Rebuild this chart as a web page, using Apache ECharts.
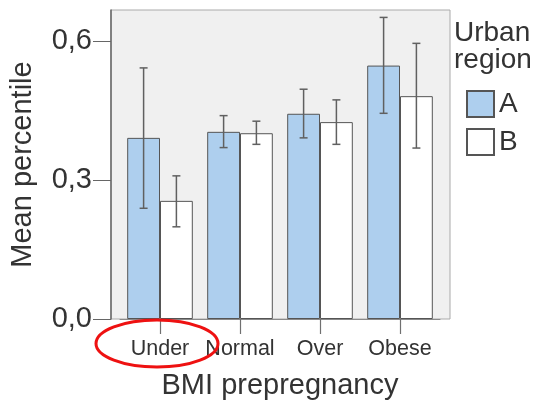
<!DOCTYPE html>
<html>
<head>
<meta charset="utf-8">
<script src="https://cdn.jsdelivr.net/npm/echarts@6/dist/echarts.min.js"></script>
<style>html,body{margin:0;padding:0;background:#fff}#c{width:535px;height:405px}</style>
</head>
<body>
<div id="c"></div>
<script>
const categories = ['Under', 'Normal', 'Over', 'Obese'];
const meanA = [0.391, 0.404, 0.443, 0.547];
const lowA  = [0.239, 0.370, 0.391, 0.444];
const highA = [0.542, 0.439, 0.496, 0.651];
const meanB = [0.255, 0.401, 0.425, 0.481];
const lowB  = [0.199, 0.377, 0.377, 0.369];
const highB = [0.309, 0.427, 0.473, 0.595];
const yTicks = [0, 0.3, 0.6];
const yMax = 0.667;

const FONT = "'Liberation Sans', Arial, sans-serif";
const CAT_GAP = 0.18;

function errSeries(name, low, high, side) {
  return {
    name: name, type: 'custom', xAxisIndex: 0, yAxisIndex: 0, z: 5,
    data: categories.map((c, i) => [i, low[i], high[i]]),
    renderItem: function (params, api) {
      const i = api.value(0);
      const lo = api.coord([i, api.value(1)]);
      const hi = api.coord([i, api.value(2)]);
      const band = api.size([1, 0])[0];
      const bw = band * (1 - CAT_GAP) / 2;
      const x = lo[0] + side * bw / 2;
      const cap = 4;
      const st = { stroke: '#606060', lineWidth: 1.5 };
      return { type: 'group', children: [
        { type: 'line', shape: { x1: x, y1: lo[1], x2: x, y2: hi[1] }, style: st },
        { type: 'line', shape: { x1: x - cap, y1: lo[1], x2: x + cap, y2: lo[1] }, style: st },
        { type: 'line', shape: { x1: x - cap, y1: hi[1], x2: x + cap, y2: hi[1] }, style: st }
      ]};
    }
  };
}

const chart = echarts.init(document.getElementById('c'), null, { renderer: 'canvas' });
chart.setOption({
  animation: false,
  textStyle: { fontFamily: FONT },
  title: {
    text: 'Urban\nregion', left: 454, top: 20, padding: 0,
    textStyle: { fontFamily: FONT, fontSize: 28, fontWeight: 'normal', color: '#333', lineHeight: 27 }
  },
  legend: {
    data: ['A', 'B'], orient: 'vertical', left: 466, top: 90, padding: 0,
    itemWidth: 27, itemHeight: 26, itemGap: 10, icon: 'rect', selectedMode: false,
    textStyle: { fontFamily: FONT, fontSize: 28, color: '#333', padding: [6, 0, 0, 0] }
  },
  grid: [
    { left: 120, right: 95, top: 10, bottom: 86 },
    { left: 111, right: 85, top: 10, bottom: 86, show: true, z: -1,
      backgroundColor: '#f0f0f0', borderColor: '#aaaaaa', borderWidth: 1 }
  ],
  xAxis: [
    {
      gridIndex: 0, type: 'category', data: categories,
      axisLine: { show: true, lineStyle: { color: '#8a8a8a', width: 1 } },
      axisTick: { show: true, interval: 0, alignWithLabel: true, length: 15, lineStyle: { color: '#707070', width: 1.2 } },
      axisLabel: { interval: 0, hideOverlap: false, fontFamily: FONT, fontSize: 21.5, color: '#333', margin: 19 },
      name: 'BMI prepregnancy', nameLocation: 'middle', nameGap: 52,
      nameTextStyle: { fontFamily: FONT, fontSize: 29, color: '#333' }
    },
    { gridIndex: 1, type: 'value', show: false }
  ],
  yAxis: [
    {
      gridIndex: 0, type: 'value', min: 0, max: yMax, offset: 9,
      axisLine: { show: true, lineStyle: { color: '#666', width: 1.5 } },
      axisTick: { show: true, length: 18, customValues: yTicks, lineStyle: { color: '#666' } },
      splitLine: { show: false },
      axisLabel: {
        customValues: yTicks, fontFamily: FONT, fontSize: 29, color: '#333', margin: 19,
        padding: [8, 0, 0, 0],
        formatter: v => v.toFixed(1).replace('.', ',')
      },
      name: 'Mean percentile', nameLocation: 'middle', nameGap: 74,
      nameTextStyle: { fontFamily: FONT, fontSize: 29, color: '#333' }
    },
    { gridIndex: 1, type: 'value', show: false }
  ],
  series: [
    { name: 'A', type: 'bar', xAxisIndex: 0, yAxisIndex: 0, data: meanA,
      barGap: '0%', barCategoryGap: (CAT_GAP * 100) + '%',
      itemStyle: { color: '#aecfee', borderColor: '#555', borderWidth: 1 } },
    { name: 'B', type: 'bar', xAxisIndex: 0, yAxisIndex: 0, data: meanB,
      barGap: '0%', barCategoryGap: (CAT_GAP * 100) + '%',
      itemStyle: { color: '#ffffff', borderColor: '#555', borderWidth: 1 } },
    errSeries('errA', lowA, highA, -1),
    errSeries('errB', lowB, highB, 1)
  ],
  graphic: [
    { type: 'ellipse', z: 100, shape: { cx: 157, cy: 343.5, rx: 61, ry: 23.5 },
      style: { fill: 'none', stroke: '#ee1111', lineWidth: 3 } }
  ]
});
</script>
</body>
</html>
